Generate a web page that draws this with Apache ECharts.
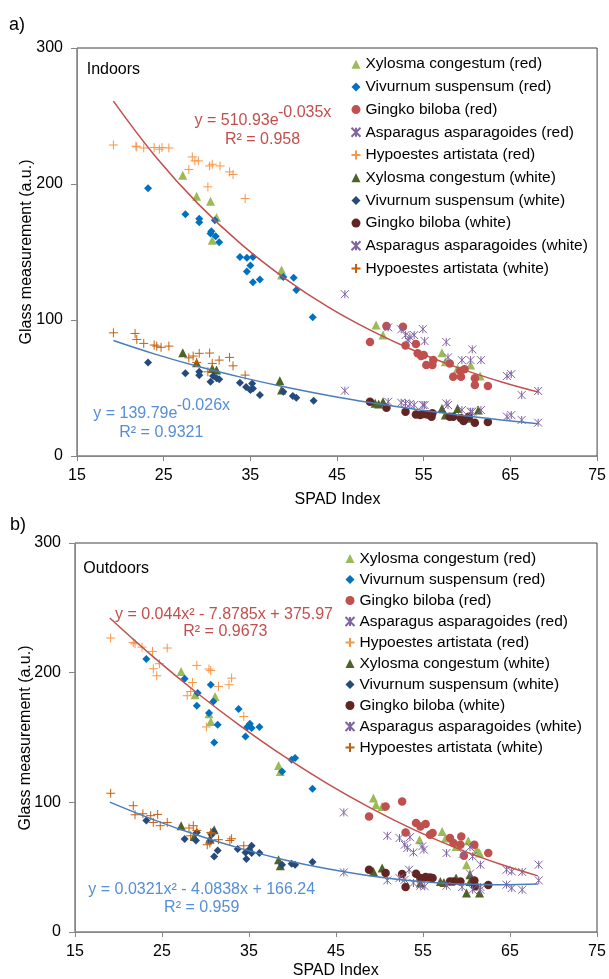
<!DOCTYPE html>
<html>
<head>
<meta charset="utf-8">
<script src="https://cdn.jsdelivr.net/npm/echarts@6/dist/echarts.min.js"></script>
<style>
    html, body { margin: 0; padding: 0; background: #fff; }
    #chart { width: 609px; height: 979px; }
</style>
</head>
<body>
<div id="chart"></div>
<script>
// series names (legend order)
const seriesNames = [
    'Xylosma congestum (red)', 'Vivurnum suspensum (red)', 'Gingko biloba (red)',
    'Asparagus asparagoides (red)', 'Hypoestes artistata (red)',
    'Xylosma congestum (white)', 'Vivurnum suspensum (white)', 'Gingko biloba (white)',
    'Asparagus asparagoides (white)', 'Hypoestes artistata (white)'
];
const xTicks = [15, 25, 35, 45, 55, 65, 75];
const yTicks = [0, 100, 200, 300];

// a) Indoors  [SPAD, glass]
const xyloRedA = [[27.2,206.5],[28.8,191],[30.4,187.4],[31.1,175.4],[30.6,158.7],[38.6,136.7],[38.6,133],[49.5,96.3],[50.3,88.9],[57.1,75.9],[57.5,69.3],[58.9,64.4],[60.4,66.9],[61.5,58.8]];
const vivuRedA = [[23.2,196.9],[27.5,177.8],[29.1,174.4],[29.1,171.9],[30.9,173.4],[30.5,165.3],[31.0,161.6],[30.4,163.6],[31.4,157.2],[33.8,146.4],[34.6,145.7],[35.3,146.4],[35.0,140.1],[34.6,135.7],[35.3,127.8],[36.1,129.8],[38.8,131.7],[40.0,131],[40.3,122],[42.2,102.1]];
const ginkRedA = [[48.8,83.8],[50.7,95.5],[52.6,95],[52.9,81.3],[54.1,82.3],[54.3,75.5],[54.7,73.5],[55.0,74.2],[55.3,66.9],[56.0,66.9],[56.1,70.5],[58.0,68.1],[58.4,58.3],[59.3,58.3],[59.2,62.5],[59.7,63.7],[60.9,57.1],[60.9,52.2],[62.4,51.4]];
const aspaRedA = [[45.9,119],[50.9,94.6],[52.4,93.1],[52.9,88.9],[53.4,87.7],[53.9,88.9],[53.2,85.2],[54.9,93.3],[55.1,84.5],[57.6,83.8],[60.6,78.4],[57.8,72.5],[59.4,70.5],[60.4,70.5],[61.6,70.5],[64.6,58.8],[65.1,60.2],[66.3,44.8],[68.2,47.8]];
const hypoRedA = [[19.2,228.7],[21.8,227.8],[21.9,227.3],[22.7,226.5],[23.9,226.8],[24.5,225.6],[24.8,226.8],[25.6,226.5],[28.3,219.9],[28.6,217],[29.0,217],[27.9,210.7],[30.3,213.3],[30.6,214.5],[31.5,213.3],[32.6,208.9],[33.0,207],[30.1,197.9],[34.4,189.3]];
const xyloWhiteA = [[27.2,75.9],[28.8,68.6],[30.6,64.4],[31.1,63.2],[38.4,55.3],[38.6,48.5],[49.4,38.7],[49.8,38.2],[50.3,39.9],[57.1,35],[57.5,30.1],[58.9,35],[60.4,27.7],[61.3,33.8]];
const vivuWhiteA = [[23.2,68.8],[27.5,60.8],[29.1,61.9],[29.1,59.3],[30.7,58.8],[31.1,57.1],[31.4,56.4],[30.4,54.6],[33.8,53.9],[34.5,50.7],[35.2,53.4],[35.0,48.5],[35.3,49.7],[36.1,44.8],[38.8,47.2],[39.9,44.1],[40.3,42.8],[42.3,40.6]];
const ginkWhiteA = [[48.8,39.9],[50.7,35.5],[52.9,32.6],[54.1,30.6],[54.6,30.1],[55.0,30.9],[55.4,30.6],[56.0,31.4],[55.9,28.9],[58.0,28.9],[58.4,28.9],[59.3,27.7],[59.6,25.7],[60.2,28.9],[60.9,24.5],[62.4,25]];
const aspaWhiteA = [[45.9,48],[50.9,39.9],[52.4,39.2],[52.9,38.7],[53.4,38.2],[53.9,37.5],[54.9,37.5],[55.1,37.5],[57.6,38.7],[57.8,37.5],[59.4,33.8],[60.4,32.6],[60.6,32.6],[61.6,33.8],[64.6,28.9],[65.1,30.1],[66.3,26.5],[68.2,24.5]];
const hypoWhiteA = [[19.2,90.6],[21.7,90.1],[21.9,85.7],[22.7,82.8],[23.9,81.6],[24.2,80.8],[24.7,79.9],[25.6,80.8],[29.1,75.5],[30.3,75.7],[27.9,72.2],[28.4,73.5],[31.4,70.5],[32.6,72.5],[33.0,66.3],[30.6,68.1],[30.1,61.9],[34.4,59.5],[28.8,68.8]];

// b) Outdoors
const xyloRedB = [[27.2,200.9],[28.8,183],[31.1,181.6],[30.6,162.4],[30.4,168.3],[38.4,128.4],[38.6,123.8],[49.3,103.3],[49.6,98.1],[50.3,96.8],[57.2,77.6],[57.6,72.5],[54.6,71.2],[58.8,66],[60.2,70.4],[61.2,63.5],[61.5,60.9],[60.0,51.9]];
const vivuRedB = [[23.2,210.5],[27.6,195.3],[29.1,184.3],[30.6,190.7],[30.9,177.8],[29.0,174.5],[30.4,168.9],[31.4,159.8],[31.0,146.2],[33.8,171.9],[35.1,160.6],[34.8,158.1],[35.3,157.3],[36.2,158.1],[34.6,150.8],[39.9,132.8],[40.3,134.2],[38.8,123.8],[42.3,110.5]];
const ginkRedB = [[48.8,89.1],[50.7,96.8],[52.6,100.7],[53.0,76.8],[54.2,84],[54.7,81.4],[55.3,83.3],[55.8,75],[56.1,76.3],[58.1,72.5],[58.5,68.6],[59.3,67.3],[59.4,73.7],[60.9,67.3],[59.7,58.8],[62.5,60.9]];
const aspaRedB = [[45.9,92.2],[50.9,74.2],[52.3,72.5],[52.9,67.3],[53.2,64.8],[53.9,61.4],[53.5,73.2],[54.9,66],[55.1,63.5],[57.7,60.9],[59.6,60.4],[60.4,65.5],[60.7,58.3],[61.6,51.9],[64.6,48],[65.2,46.7],[66.4,46.3],[68.3,51.9]];
const hypoRedB = [[19.1,226.7],[21.7,223.3],[21.9,222.3],[22.7,219.7],[23.9,216.4],[25.6,219],[24.7,206.9],[24.0,203],[24.4,197.6],[29.0,205.6],[30.4,202.8],[30.6,201.7],[28.5,192.4],[28.3,185.5],[27.9,182.2],[31.5,189.4],[32.7,190.7],[33.0,195.8],[34.4,166.2],[30.1,158.1]];
const xyloWhiteB = [[27.2,82],[28.7,73.7],[31.0,78.9],[30.5,71.7],[38.4,55.7],[38.6,51.1],[49.3,46.7],[50.3,49.3],[54.7,37.8],[57.0,39],[57.4,38.2],[58.8,41.6],[60.0,30.1],[60.4,44.2],[61.5,30.1],[60.4,39]];
const vivuWhiteB = [[23.2,86],[27.6,71.7],[29.0,76.8],[28.9,70.6],[30.5,69.9],[30.7,75],[30.9,77.6],[31.0,58.3],[31.4,62.9],[33.7,64],[34.6,61.4],[34.7,56.3],[35.3,66.5],[35.3,60.9],[35.0,63.5],[36.2,60.9],[38.8,51.9],[39.9,52.7],[40.3,51.9],[42.3,54]];
const ginkWhiteB = [[48.8,48],[50.7,45.5],[52.6,44.7],[53.0,34.7],[54.2,45],[54.7,41.6],[55.3,42.4],[55.8,42.1],[56.1,41.6],[58.1,39],[58.5,39],[59.3,39],[60.9,39.8],[61.0,35.2],[62.5,36.2]];
const aspaWhiteB = [[45.9,46],[50.9,39.8],[52.3,41.6],[52.9,40.3],[53.4,48],[53.9,37.8],[54.7,35.7],[55.2,35.2],[57.7,35.7],[59.5,34.7],[60.4,45],[60.7,32.6],[61.6,34.7],[61.6,32.6],[64.6,36.5],[65.2,33.9],[66.4,32.6],[68.3,39.8]];
const hypoWhiteB = [[19.1,107],[21.7,97.4],[21.9,90.4],[22.8,91.2],[23.7,89.7],[24.5,90.7],[24.0,84.5],[24.8,82],[25.6,84.5],[28.1,80.2],[28.6,82],[29.0,78.3],[28.3,74.2],[30.6,76.8],[30.7,75.8],[30.2,67.3],[30.5,68.6],[31.5,71.2],[32.8,70.6],[33.0,71.9],[34.4,66.5]];

// trend lines
const trendX = [19.2, 24, 29, 34, 39, 44, 49, 54, 59, 64, 68.2];
const trendRedA = [260.9, 220.6, 185.2, 155.4, 130.5, 109.5, 92.0, 77.2, 64.8, 54.4, 47.0];
const trendBlueA = [84.9, 74.9, 65.8, 57.8, 50.7, 44.5, 39.1, 34.3, 30.2, 26.5, 23.7];
const trendXB = [19.0, 24, 29, 34, 39, 44, 49, 54, 59, 64, 68.2];
const trendRedB = [242.2, 212.2, 184.5, 159.0, 135.6, 114.5, 95.6, 78.8, 64.3, 52.0, 43.3];
const trendBlueB = [100.2, 86.7, 74.8, 64.5, 55.8, 48.7, 43.2, 39.3, 37.0, 36.4, 37.0];

const FONT = '"Liberation Sans", Arial, sans-serif';
const STAR = 'path://M0,0L10,10M10,0L0,10M5,0L5,10';
const PLUS = 'path://M5,0L5,10M0,5L10,5';
const styles = [
    { symbol: 'triangle', size: 9, color: '#9BBB59' },
    { symbol: 'diamond', size: 8, color: '#0070C0' },
    { symbol: 'circle', size: 8.5, color: '#C0504D' },
    { symbol: STAR, size: 8, color: '#8064A2', stroke: true },
    { symbol: PLUS, size: 9, color: '#F79646', stroke: true },
    { symbol: 'triangle', size: 9, color: '#4F6228' },
    { symbol: 'diamond', size: 8, color: '#254A7B' },
    { symbol: 'circle', size: 8.5, color: '#632523' },
    { symbol: STAR, size: 8, color: '#8064A2', stroke: true },
    { symbol: PLUS, size: 9, color: '#C0600F', stroke: true }
];
const dataA = [xyloRedA, vivuRedA, ginkRedA, aspaRedA, hypoRedA, xyloWhiteA, vivuWhiteA, ginkWhiteA, aspaWhiteA, hypoWhiteA];
const dataB = [xyloRedB, vivuRedB, ginkRedB, aspaRedB, hypoRedB, xyloWhiteB, vivuWhiteB, ginkWhiteB, aspaWhiteB, hypoWhiteB];

const scatter = (data, i, axis) => ({
    name: seriesNames[i],
    type: 'scatter',
    xAxisIndex: axis, yAxisIndex: axis,
    symbol: styles[i].symbol,
    symbolSize: styles[i].size,
    data: data,
    itemStyle: styles[i].stroke
        ? { color: styles[i].color, borderColor: styles[i].color, borderWidth: 1, opacity: 1 }
        : { color: styles[i].color, opacity: 1 }
});

const trend = (xs, ys, color, axis) => ({
    type: 'line',
    xAxisIndex: axis, yAxisIndex: axis,
    data: xs.map((x, i) => [x, ys[i]]),
    smooth: 0.4,
    symbol: 'none',
    silent: true,
    z: 5,
    lineStyle: { color: color, width: 1.5 }
});

const axisX = (grid) => ({
    type: 'value', gridIndex: grid, min: 15, max: 75, interval: 10,
    axisLine: { onZero: false, lineStyle: { color: '#868686', width: 1 } },
    axisTick: { show: true, inside: false, length: 5, lineStyle: { color: '#868686' } },
    axisLabel: { color: '#000', fontSize: 16, fontFamily: FONT, margin: 12 },
    splitLine: { show: false }
});
const axisY = (grid) => ({
    type: 'value', gridIndex: grid, min: 0, max: 300, interval: 100,
    axisLine: { show: true, lineStyle: { color: '#868686', width: 1 } },
    axisTick: { show: true, inside: false, length: 6, lineStyle: { color: '#868686' } },
    axisLabel: { color: '#000', fontSize: 16, fontFamily: FONT, margin: 14 },
    splitLine: { show: false }
});

const txt = (text, x, y, color, opts) => Object.assign({
    type: 'text', x: x, y: y, z: 50,
    style: Object.assign({
        text: text, fill: color || '#000', font: '16px ' + FONT,
        align: 'left', verticalAlign: 'middle', textAlign: 'left', textVerticalAlign: 'middle'
    }, (opts && opts.style) || {})
}, opts && opts.rotation ? { rotation: opts.rotation } : {});
const ctr = { style: { align: 'center', textAlign: 'center' } };

const legendBase = {
    orient: 'vertical', data: seriesNames, padding: 0,
    itemWidth: 9, itemHeight: 9,
    textStyle: { fontSize: 15.5, fontFamily: FONT, color: '#000', lineHeight: 16, padding: [0, 0, 0, 0] },
    selectedMode: false
};

const chart = echarts.init(document.getElementById('chart'), null, { renderer: 'canvas' });
chart.setOption({
    backgroundColor: '#fff',
    animation: false,
    grid: [
        { left: 77, top: 48, width: 521, height: 408, show: true, borderColor: '#404040', borderWidth: 1, backgroundColor: 'transparent' },
        { left: 75, top: 543, width: 522, height: 389, show: true, borderColor: '#404040', borderWidth: 1, backgroundColor: 'transparent' }
    ],
    xAxis: [axisX(0), axisX(1)],
    yAxis: [axisY(0), axisY(1)],
    legend: [
        Object.assign({}, legendBase, { left: 350.5, top: 56.2, itemGap: 6.7 }),
        Object.assign({}, legendBase, { left: 344.5, top: 550.5, itemGap: 5 })
    ],
    series: [
        ...dataA.map((d, i) => scatter(d, i, 0)),
        ...dataB.map((d, i) => scatter(d, i, 1)),
        trend(trendX, trendRedA, '#C0504D', 0),
        trend(trendX, trendBlueA, '#4A7EBB', 0),
        trend(trendXB, trendRedB, '#C0504D', 1),
        trend(trendXB, trendBlueB, '#4A7EBB', 1)
    ],
    graphic: [
        txt('a)', 9, 25, '#000', { style: { font: '18px ' + FONT } }),
        txt('b)', 10, 525, '#000', { style: { font: '18px ' + FONT } }),
        txt('Indoors', 86.7, 70),
        txt('Outdoors', 83.3, 568.3),
        txt('y = 510.93e', 194.5, 120.6, '#C0504D'),
        txt('-0.035x', 278, 112.6, '#C0504D'),
        txt('R² = 0.958', 262.5, 140, '#C0504D', ctr),
        txt('y = 139.79e', 93.3, 413.3, '#558ED5'),
        txt('-0.026x', 176.7, 405.3, '#558ED5'),
        txt('R² = 0.9321', 161.3, 432.7, '#558ED5', ctr),
        txt('y = 0.044x² - 7.8785x + 375.97', 115, 615, '#C0504D'),
        txt('R² = 0.9673', 225.3, 631.7, '#C0504D', ctr),
        txt('y = 0.0321x² - 4.0838x + 166.24', 88.3, 890, '#558ED5'),
        txt('R² = 0.959', 201.7, 907.3, '#558ED5', ctr),
        txt('SPAD Index', 337.5, 500, '#000', ctr),
        txt('SPAD Index', 335.7, 971, '#000', ctr),
        txt('Glass measurement (a.u.)', 27, 252, '#000', { rotation: Math.PI / 2, style: { align: 'center', textAlign: 'center' } }),
        txt('Glass measurement (a.u.)', 26, 738, '#000', { rotation: Math.PI / 2, style: { align: 'center', textAlign: 'center' } })
    ]
});
</script>
</body>
</html>
